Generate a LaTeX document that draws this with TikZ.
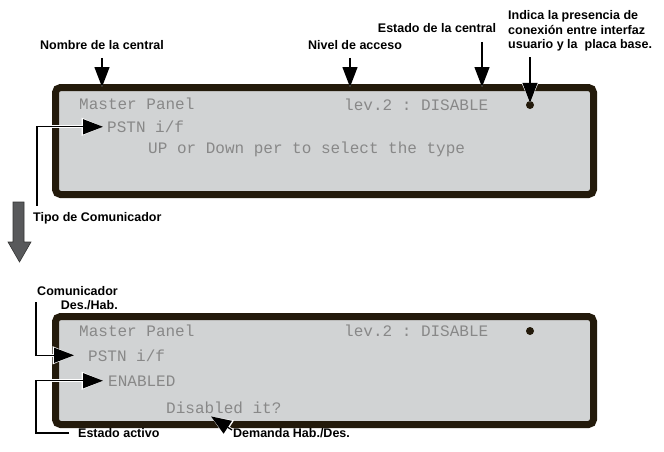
\documentclass[tikz,border=0pt]{standalone}
\usepackage{fontspec}
\setmainfont{Liberation Sans}
\setmonofont{Liberation Mono}
\usetikzlibrary{arrows.meta}

\definecolor{lcdgray}{HTML}{D1D3D4}
\definecolor{lcdframe}{HTML}{231A0B}
\definecolor{lcdtext}{HTML}{888888}
\definecolor{bigarrow}{HTML}{58595B}

\begin{document}
\begin{tikzpicture}[x=1pt,y=-1pt,
  lcd/.style={draw=lcdframe,line width=7pt,fill=lcdgray,rounded corners=5pt,inner sep=0pt},
  lcdline/.style={anchor=base west,inner sep=0pt,text=lcdtext,
    font=\ttfamily\fontsize{16}{16}\selectfont},
  note/.style={inner sep=0pt,font=\bfseries\fontsize{12.5}{14.5}\selectfont},
  pointer/.style={line width=1.3pt,-{Triangle[length=20pt,width=15pt]},
    preaction={draw=white,line width=3pt,-{Triangle[length=21.5pt,width=17.5pt]}}},
  link/.style={circle,fill=lcdframe,minimum size=8pt,inner sep=0pt}]
  \useasboundingbox (0,0) rectangle (664,451);

  % upper display
  \node[lcd,minimum width=538pt,minimum height=107pt] (paneltop) at (324.5,141) {};
  \node[lcdline] (mastertop) at (79,109.5) {Master Panel};
  \node[lcdline] (levtop) at (344,110) {lev.2 : DISABLE};
  \node[link] (linktop) at (530,105) {};
  \node[lcdline] (pstntop) at (107,132.5) {PSTN i/f};
  \node[lcdline] (uptop) at (148,153.5) {UP or Down per to select the type};

  \node[note] (nombre) at (102,45) {Nombre de la central};
  \node[note] (nivel) at (355,45) {Nivel de acceso};
  \node[note] (estado) at (437,28) {Estado de la central};
  \node[note,align=left,anchor=west] (indica) at (508,31)
    {Indica la presencia de\\conexión entre interfaz\\usuario y la\ \ placa base.};
  \node[note,anchor=west] (tipo) at (33,218) {Tipo de Comunicador};

  \draw[pointer] ([yshift=-8pt]nombre.south) -- ([yshift=-3pt]nombre.south |- paneltop.north);
  \draw[pointer] ([xshift=-5pt,yshift=-8pt]nivel.south) -- ([xshift=-5pt,yshift=-3pt]nivel.south |- paneltop.north);
  \draw[pointer] ([xshift=45pt,yshift=-9pt]estado.south) -- ([xshift=45pt,yshift=-3pt]estado.south |- paneltop.north);
  \draw[pointer] (linktop.north |- 0,57) -- ([yshift=-2pt]linktop.north);
  \draw[pointer] ([xshift=4pt,yshift=6pt]tipo.north west) |- ([xshift=-4pt]pstntop.west);

  % step to the next screen
  \filldraw[fill=bigarrow,draw=black!80,line width=0.6pt]
    (13,202) -- (24,202) -- (24,242) -- (31,242) -- (19.5,262) -- (8,242) -- (13,242) -- cycle;

  % lower display
  \node[lcd,minimum width=538pt,minimum height=108pt] (panelbot) at (324.5,370.5) {};
  \node[lcdline] (masterbot) at (79,336.5) {Master Panel};
  \node[lcdline] (levbot) at (344,336.5) {lev.2 : DISABLE};
  \node[link] (linkbot) at (530,331) {};
  \node[lcdline] (pstnbot) at (88,361) {PSTN i/f};
  \node[lcdline] (enabled) at (108,386) {ENABLED};
  \node[lcdline] (disabled) at (166,413) {Disabled it?};

  \node[note,align=right,anchor=north east] (comdes) at (118,286) {Comunicador\\Des./Hab.};
  \node[note,anchor=west] (activo) at (78,433) {Estado activo};
  \node[note,anchor=west] (demanda) at (233,433) {Demanda Hab./Des.};
  \coordinate (comfoot) at (36,302);

  \draw[pointer] (comfoot) |- ([xshift=-14pt]pstnbot.west);
  \draw[pointer] ([xshift=-9pt]activo.west) -| ([xshift=-72pt]enabled.west) -- ([xshift=-5pt]enabled.west);
  \draw[pointer] ([xshift=-1pt,yshift=3pt]demanda.west) -- ([xshift=45pt,yshift=-3pt]disabled.south west);
\end{tikzpicture}
\end{document}
